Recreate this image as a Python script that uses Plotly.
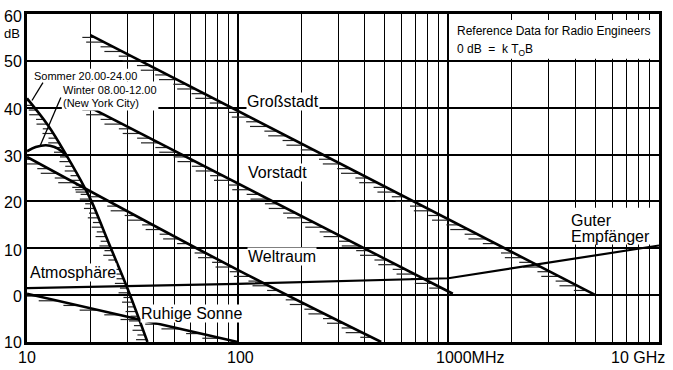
import numpy as np
import plotly.graph_objects as go

# ---------------- data (frequency in MHz, noise level in dB above kT0B) ----------------
gross_f = [20, 5000]
gross_db = [55.5, 0.0]

vor_f = [20, 1050]
vor_db = [40.0, 0.3]

welt_f = [10, 100, 480]
welt_db = [29.5, 5.4, -10.0]

sonne_f = [10, 100]
sonne_db = [0.3, -10.0]

sommer_f = [10, 12.6, 15.5, 18.8, 20.3, 24.6, 30, 37.3]
sommer_db = [42.0, 36.2, 29.6, 22.9, 19.9, 10.8, 1.4, -10.0]

winter_f = [10, 11, 12.3, 13.5, 14.6, 15.5]
winter_db = [30.7, 31.6, 32.0, 31.6, 30.7, 29.6]

recv_f = [10, 100, 1000, 10000]
recv_db = [1.5, 2.4, 3.6, 10.6]

y_tick_vals = [60, 50, 40, 30, 20, 10, 0, -10]
y_tick_text = ["60", "50", "40", "30", "20", "10", "0", "10"]
x_major = [10, 100, 1000, 10000]
x_minor = [m * d for d in (10, 100, 1000) for m in range(2, 10)]

FONT = "Liberation Sans, Arial, sans-serif"

# plot area in pixels
L, R, T, B = 27, 662, 12, 342
W, H = 673, 370


def px(xp):
    return (xp - L) / (R - L)


def py(yp):
    return (B - yp) / (B - T)


def hatch(f, db, step=1.0, lens=(0.06, 0.085), top_off=0.5):
    lf = np.log10(np.asarray(f, float))
    d = np.asarray(db, float)
    order = np.argsort(d)
    levels = np.arange(d.max() - top_off, d.min() + 0.3, -step)
    xs, ys = [], []
    for i, lv in enumerate(levels):
        x1 = np.interp(lv, d[order], lf[order])
        ln = lens[i % 2]
        xs += [10 ** (x1 - ln), 10 ** x1, None]
        ys += [lv, lv, None]
    return xs, ys


fig = go.Figure()

hatch_style = dict(color="#222", width=1.2)
for f, d, lens in [
    (gross_f, gross_db, (0.06, 0.085)),
    (vor_f, vor_db, (0.06, 0.085)),
    (welt_f, welt_db, (0.055, 0.08)),
    (sonne_f, sonne_db, (0.07, 0.09)),
    (sommer_f, sommer_db, (0.035, 0.05)),
]:
    hx, hy = hatch(f, d, lens=lens)
    fig.add_trace(go.Scatter(x=hx, y=hy, mode="lines", line=hatch_style,
                             hoverinfo="skip", showlegend=False))

curve_style = dict(color="black", width=2.6)
for f, d, shape in [
    (gross_f, gross_db, "linear"),
    (vor_f, vor_db, "linear"),
    (welt_f, welt_db, "spline"),
    (sonne_f, sonne_db, "linear"),
    (sommer_f, sommer_db, "spline"),
    (winter_f, winter_db, "spline"),
]:
    fig.add_trace(go.Scatter(x=f, y=d, mode="lines", line=dict(curve_style, shape=shape),
                             showlegend=False))
fig.add_trace(go.Scatter(x=recv_f, y=recv_db, mode="lines",
                         line=dict(color="black", width=2.2), showlegend=False))

fig.update_xaxes(
    type="log", range=[1, 4],
    tickvals=x_major, showticklabels=False, ticks="",
    showgrid=True, gridcolor="black", gridwidth=2.2,
    minor=dict(tickvals=x_minor, showgrid=True, gridcolor="black", gridwidth=1.3, ticks=""),
    showline=True, mirror=True, linecolor="black", linewidth=2.6, zeroline=False,
)
fig.update_yaxes(
    range=[-10, 60], tickvals=y_tick_vals, showticklabels=False, ticks="",
    showgrid=True, gridcolor="black", gridwidth=1.8,
    showline=True, mirror=True, linecolor="black", linewidth=2.6, zeroline=False,
)

shapes = [
    # white panels behind the boxed texts
    dict(type="rect", xref="paper", yref="paper", x0=px(453), x1=px(656), y0=py(57), y1=py(18),
         fillcolor="white", line=dict(width=0), layer="above"),
    dict(type="rect", xref="paper", yref="paper", x0=px(569), x1=px(659), y0=py(244), y1=py(207),
         fillcolor="white", line=dict(width=0), layer="above"),
    dict(type="rect", xref="paper", yref="paper", x0=px(31), x1=px(137), y0=py(80), y1=py(67),
         fillcolor="white", line=dict(width=0), layer="above"),
    dict(type="rect", xref="paper", yref="paper", x0=px(62), x1=px(159), y0=py(109), y1=py(80),
         fillcolor="white", line=dict(width=0), layer="above"),
    # leader lines
    dict(type="line", xref="paper", yref="paper", x0=px(43), y0=py(81), x1=px(32), y1=py(99),
         line=dict(color="black", width=1.3), layer="above"),
    dict(type="line", xref="paper", yref="paper", x0=px(61), y0=py(96), x1=px(40), y1=py(145),
         line=dict(color="black", width=1.3), layer="above"),
]
fig.update_layout(shapes=shapes)

ann = []


def text(t, xp, yp, size=16, xanchor="left", bg=None):
    d = dict(text=t, xref="paper", yref="paper", x=px(xp), y=py(yp), xanchor=xanchor,
             yanchor="middle", showarrow=False, font=dict(family=FONT, size=size, color="black"),
             borderpad=0)
    if bg:
        d["bgcolor"] = bg
    ann.append(d)


# y tick labels
ytick_px = {60: 15, 50: 60, 40: 108, 30: 155, 20: 202, 10: 250, 0: 296, -10: 343}
for v, t in zip(y_tick_vals, y_tick_text):
    text(t, 23, ytick_px[v], size=16, xanchor="right")
text("dB", 21, 32, size=13, xanchor="right")

# x tick labels
text("10", 27, 358, size=16, xanchor="center")
text("100", 242, 358, size=16, xanchor="center")
text("1000MHz", 437, 358, size=16, xanchor="left")
text("10 GHz", 669, 358, size=16, xanchor="right")

# curve labels
text("Großstadt", 247, 100, bg="white")
text("Vorstadt", 248, 171, bg="white")
text("Weltraum", 248, 256, bg="white")
text("Atmosphäre", 29, 272, bg="white")
text("Ruhige Sonne", 141, 313, bg="white")
text("Guter", 573, 220)
text("Empfänger", 573, 236)

text("Sommer 20.00-24.00", 33, 74, size=11)
text("Winter 08.00-12.00", 62, 88, size=11)
text("(New York City)", 62, 102, size=11)

text("Reference Data for Radio Engineers", 458, 29, size=12)
text("0 dB  =  k T<sub>O</sub>B", 458, 48, size=12)

fig.update_layout(
    annotations=ann,
    width=W, height=H,
    margin=dict(l=L, r=W - R, t=T, b=H - B, pad=0),
    paper_bgcolor="white", plot_bgcolor="white",
    showlegend=False,
)

fig.write_html("out.html", config={"displayModeBar": False},
               post_script="document.body.style.margin='0';document.body.style.padding='0';")
